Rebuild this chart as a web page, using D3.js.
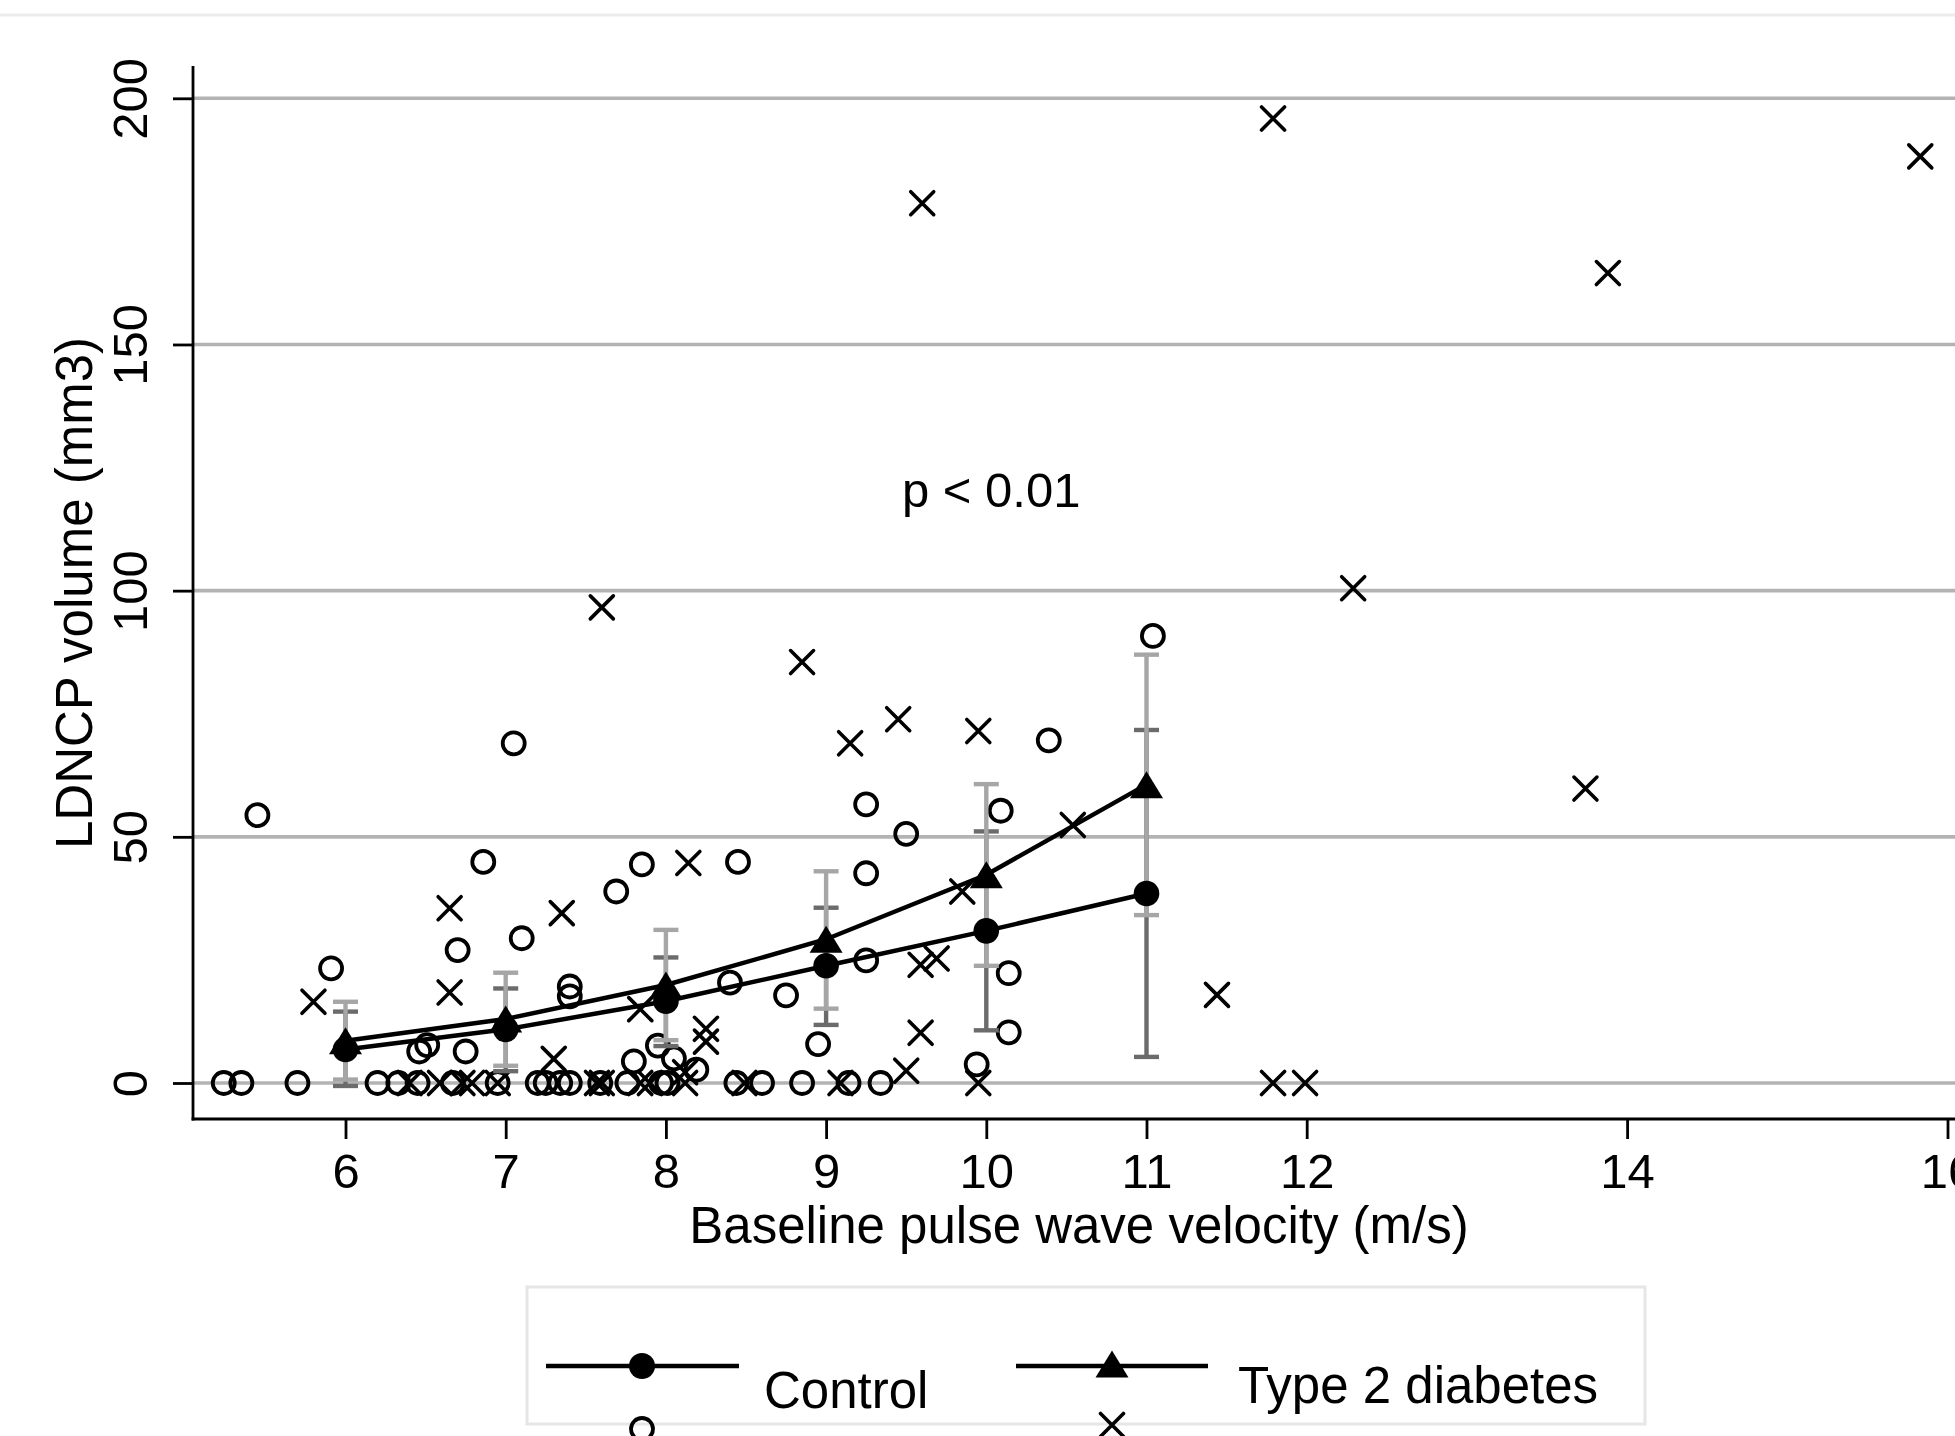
<!DOCTYPE html>
<html>
<head>
<meta charset="utf-8">
<script src="https://cdn.jsdelivr.net/npm/d3@7"></script>
<style>
  body { margin: 0; background: #fff; }
  svg { display: block; font-family: "Liberation Sans", Arial, sans-serif; }
</style>
</head>
<body>
<svg id="chart" width="1955" height="1436"></svg>
<script>
// Individual subjects: [baseline PWV (m/s), LDNCP volume (mm3)]
const controlPts = [
  [5.24, 0], [5.35, 0], [5.45, 54.4], [5.70, 0], [5.91, 23.3], [6.20, 0], [6.33, 0],
  [6.45, 0], [6.46, 6.4], [6.51, 7.7], [6.67, 0], [6.70, 27.0], [6.75, 6.4], [6.86, 44.9],
  [6.95, 0], [7.05, 69.0], [7.10, 29.4], [7.20, 0], [7.25, 0], [7.34, 0], [7.40, 0],
  [7.40, 19.6], [7.40, 17.6], [7.59, 0], [7.69, 38.9], [7.76, 0], [7.80, 4.4], [7.85, 44.4],
  [7.95, 7.6], [7.97, 0], [8.01, 0], [8.05, 5.0], [8.19, 2.7], [8.40, 20.4], [8.44, 0],
  [8.45, 44.9], [8.60, 0], [8.75, 17.8], [8.85, 0], [8.95, 7.9], [9.14, 0], [9.25, 56.6],
  [9.25, 42.6], [9.25, 24.9], [9.34, 0], [9.50, 50.6], [9.94, 3.8], [10.09, 55.3],
  [10.14, 22.3], [10.14, 10.3], [10.39, 69.6], [11.04, 90.8]
];
const diabetesPts = [
  [5.80, 16.5], [6.40, 0], [6.59, 0], [6.65, 35.5], [6.65, 18.4], [6.73, 0], [6.79, 0],
  [6.95, 0], [7.30, 4.9], [7.35, 34.5], [7.57, 0], [7.60, 96.6], [7.60, 0], [7.84, 15.0],
  [7.84, 0], [7.90, 0], [8.12, 2.2], [8.14, 44.7], [8.12, 0], [8.25, 11.0], [8.25, 8.4],
  [8.49, 0], [8.85, 85.5], [9.09, 0], [9.15, 69.0], [9.45, 73.9], [9.50, 2.5], [9.60, 178.7],
  [9.59, 24.0], [9.69, 25.3], [9.59, 10.2], [9.85, 38.9], [9.95, 71.5], [9.95, 0],
  [10.54, 52.4], [11.44, 17.9], [11.79, 195.9], [11.79, 0], [11.99, 0], [12.29, 100.5],
  [13.74, 59.8], [13.88, 164.5], [15.83, 188.2]
];

// Predicted means with 95% CI at each PWV value
const bins = [6, 7, 8, 9, 10, 11];
const controlMean = [6.8, 10.9, 16.6, 23.8, 30.9, 38.5];
const controlLo = [-0.6, 2.4, 7.5, 11.8, 10.7, 5.3];
const controlHi = [14.5, 19.2, 25.5, 35.6, 51.1, 71.7];
const diabetesMean = [8.6, 13.0, 19.9, 29.2, 42.3, 60.6];
const diabetesLo = [0.7, 3.5, 8.7, 15.1, 23.8, 34.1];
const diabetesHi = [16.5, 22.4, 31.1, 43.0, 60.7, 87.0];

const xTicks = [6, 7, 8, 9, 10, 11, 12, 14, 16];
const yTicks = [0, 50, 100, 150, 200];

// Layout
const width = 1955;
const height = 1436;
const plot = {left: 193, top: 66, bottom: 1119, right: 1955};
const gridColor = '#b3b3b3';
const darkBar = '#6b6b6b';
const lightBar = '#a6a6a6';

const svg = d3.select('#chart');

const x = d3.scaleLinear().domain([6, 16]).range([345.5, 1947.5]);
const y = d3.scaleLinear().domain([0, 200]).range([1083, 98.3]);

// faint frame line at the top
svg.append('line')
  .attr('x1', 0).attr('x2', width).attr('y1', 15).attr('y2', 15)
  .attr('stroke', '#ececec').attr('stroke-width', 3);

// horizontal grid
svg.append('g').selectAll('line').data(yTicks)
  .enter().append('line')
  .attr('x1', plot.left).attr('x2', plot.right)
  .attr('y1', d => y(d)).attr('y2', d => y(d))
  .attr('stroke', gridColor).attr('stroke-width', 3.6);

// axes
const yAxis = svg.append('g')
  .attr('transform', `translate(${plot.left},0)`)
  .call(d3.axisLeft(y).tickValues(yTicks).tickSize(20));
const xAxis = svg.append('g')
  .attr('transform', `translate(0,${plot.bottom})`)
  .call(d3.axisBottom(x).tickValues(xTicks).tickSize(20));

[yAxis, xAxis].forEach(g => {
  g.select('.domain').remove();
  g.selectAll('.tick line').attr('stroke', '#000').attr('stroke-width', 2.8);
  g.selectAll('.tick text')
    .attr('fill', '#000')
    .attr('font-size', 49)
    .attr('font-family', '"Liberation Sans", Arial, sans-serif');
});
yAxis.selectAll('.tick text')
  .attr('transform', 'rotate(-90)')
  .attr('x', 0).attr('y', -46).attr('dy', 0)
  .attr('text-anchor', 'middle');
xAxis.selectAll('.tick text')
  .attr('y', 69).attr('dy', 0);

svg.append('line')
  .attr('x1', plot.left).attr('x2', plot.left)
  .attr('y1', plot.top).attr('y2', plot.bottom + 1.5)
  .attr('stroke', '#000').attr('stroke-width', 2.8);
svg.append('line')
  .attr('x1', plot.left - 1.4).attr('x2', plot.right)
  .attr('y1', plot.bottom).attr('y2', plot.bottom)
  .attr('stroke', '#000').attr('stroke-width', 3);

// axis titles
svg.append('text')
  .attr('x', 1079).attr('y', 1243)
  .attr('text-anchor', 'middle').attr('font-size', 51)
  .text('Baseline pulse wave velocity (m/s)');
svg.append('text')
  .attr('transform', 'translate(92,593) rotate(-90)')
  .attr('text-anchor', 'middle').attr('font-size', 51)
  .text('LDNCP volume (mm3)');

// marker shapes
const crossPath = 'M-11.5,-11.5L11.5,11.5M-11.5,11.5L11.5,-11.5';
const trianglePath = 'M0,-13.5L16.5,13.5L-16.5,13.5Z';

// scatter: controls as hollow circles, diabetes as crosses
svg.append('g').selectAll('circle').data(controlPts)
  .enter().append('circle')
  .attr('cx', d => x(d[0])).attr('cy', d => y(d[1]))
  .attr('r', 11).attr('fill', 'none')
  .attr('stroke', '#000').attr('stroke-width', 3.8);
svg.append('g').selectAll('path').data(diabetesPts)
  .enter().append('path')
  .attr('d', crossPath)
  .attr('transform', d => `translate(${x(d[0])},${y(d[1])})`)
  .attr('fill', 'none').attr('stroke', '#000')
  .attr('stroke-width', 3.6).attr('stroke-linecap', 'round');

// confidence interval bars
function drawCaps(lo, hi, color) {
  const g = svg.append('g').attr('stroke', color).attr('stroke-width', 4.4);
  bins.forEach((b, i) => {
    const cx = x(b);
    g.append('line').attr('x1', cx).attr('x2', cx).attr('y1', y(lo[i])).attr('y2', y(hi[i]));
    [lo[i], hi[i]].forEach(v => {
      g.append('line').attr('x1', cx - 12.5).attr('x2', cx + 12.5).attr('y1', y(v)).attr('y2', y(v));
    });
  });
}
drawCaps(controlLo, controlHi, darkBar);
drawCaps(diabetesLo, diabetesHi, lightBar);

// mean lines
const meanLine = vals => d3.line().x((d, i) => x(bins[i])).y(d => y(d))(vals);
[controlMean, diabetesMean].forEach(vals => {
  svg.append('path')
    .attr('d', meanLine(vals))
    .attr('fill', 'none').attr('stroke', '#000').attr('stroke-width', 4.5);
});

svg.append('g').selectAll('circle').data(controlMean)
  .enter().append('circle')
  .attr('cx', (d, i) => x(bins[i])).attr('cy', d => y(d))
  .attr('r', 12.8).attr('fill', '#000');
svg.append('g').selectAll('path').data(diabetesMean)
  .enter().append('path')
  .attr('d', trianglePath)
  .attr('transform', (d, i) => `translate(${x(bins[i])},${y(d)})`)
  .attr('fill', '#000');

// p value note
svg.append('text')
  .attr('x', 902).attr('y', 507)
  .attr('font-size', 49)
  .text('p < 0.01');

// legend
const legend = svg.append('g');
legend.append('rect')
  .attr('x', 527).attr('y', 1287).attr('width', 1118).attr('height', 137)
  .attr('fill', '#fff').attr('stroke', '#e6e6e6').attr('stroke-width', 3);

legend.append('line')
  .attr('x1', 546).attr('x2', 739).attr('y1', 1366).attr('y2', 1366)
  .attr('stroke', '#000').attr('stroke-width', 4.5);
legend.append('circle')
  .attr('cx', 642).attr('cy', 1366).attr('r', 13).attr('fill', '#000');
legend.append('circle')
  .attr('cx', 642).attr('cy', 1429).attr('r', 11)
  .attr('fill', 'none').attr('stroke', '#000').attr('stroke-width', 3.8);
legend.append('text')
  .attr('x', 764).attr('y', 1408).attr('font-size', 51).text('Control');

legend.append('line')
  .attr('x1', 1016).attr('x2', 1208).attr('y1', 1366).attr('y2', 1366)
  .attr('stroke', '#000').attr('stroke-width', 4.5);
legend.append('path')
  .attr('d', trianglePath).attr('transform', 'translate(1112,1364)').attr('fill', '#000');
legend.append('path')
  .attr('d', crossPath).attr('transform', 'translate(1112,1425)')
  .attr('fill', 'none').attr('stroke', '#000')
  .attr('stroke-width', 3.6).attr('stroke-linecap', 'round');
legend.append('text')
  .attr('x', 1238).attr('y', 1403).attr('font-size', 51).text('Type 2 diabetes');
</script>
</body>
</html>
